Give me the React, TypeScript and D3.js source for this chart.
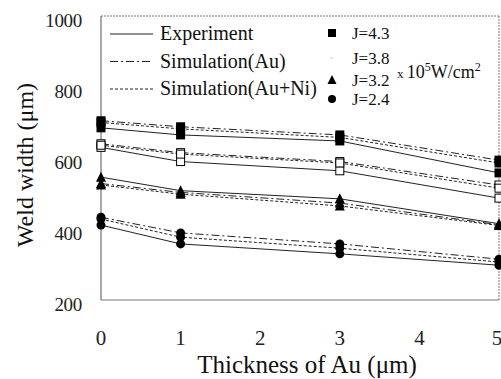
import React from "react";
import * as d3 from "d3";

// x positions (Au thickness, um)
const thickness = [0, 1, 3, 5];
const xTicks = [0, 1, 2, 3, 4, 5];
const yTicks = [200, 400, 600, 800, 1000];

// current density labels (x10^5 W/cm2)
const currents = ["4.3", "3.8", "3.2", "2.4"];
const markers = ["square", "openSquare", "triangle", "circle"];

// weld width (um)
const exp43 = [685, 665, 648, 558];
const simAu43 = [705, 688, 665, 594];
const simAuNi43 = [700, 682, 658, 586];

const exp38 = [630, 590, 564, 487];
const simAu38 = [640, 615, 590, 524];
const simAuNi38 = [636, 611, 586, 515];

const exp32 = [546, 508, 485, 415];
const simAu32 = [528, 503, 473, 412];
const simAuNi32 = [524, 498, 465, 410];

const exp24 = [411, 358, 330, 298];
const simAu24 = [433, 389, 358, 315];
const simAuNi24 = [428, 377, 346, 307];

const seriesNames = ["Experiment", "Simulation(Au)", "Simulation(Au+Ni)"];
const dashes = ["none", "8,3,2,3", "3,2"];

const groups = [
  [exp43, simAu43, simAuNi43],
  [exp38, simAu38, simAuNi38],
  [exp32, simAu32, simAuNi32],
  [exp24, simAu24, simAuNi24],
];

const FONT = '"Liberation Serif", "Times New Roman", "DejaVu Serif", serif';

function Marker({ kind, x, y, s = 9 }: { kind: string; x: number; y: number; s?: number }) {
  const h = s / 2;
  if (kind === "square")
    return <rect x={x - h} y={y - h} width={s} height={s} fill="#000" />;
  if (kind === "openSquare")
    return <rect x={x - h + 0.5} y={y - h + 0.5} width={s - 1} height={s - 1} fill="#fff" stroke="#000" strokeWidth={1} />;
  if (kind === "triangle")
    return <path d={`M${x},${y - h - 1}L${x + h + 0.5},${y + h}L${x - h - 0.5},${y + h}Z`} fill="#000" />;
  return <circle cx={x} cy={y} r={h} fill="#000" />;
}

export default function App() {
  const width = 501;
  const height = 379;
  const margin = { top: 16, left: 101, bottom: 79, right: 2 };

  const x = d3.scaleLinear().domain([0, 5]).range([margin.left, width - margin.right]);
  const y = d3.scaleLinear().domain([200, 1000]).range([height - margin.bottom, margin.top]);

  const line = d3
    .line<number>()
    .x((_, i) => x(thickness[i]))
    .y((d) => y(d));

  return (
    <svg
      width={width}
      height={height}
      style={{ position: "absolute", left: 0, top: 0, background: "#fff", fontFamily: FONT }}
    >
      {/* frame */}
      <line x1={x(0)} x2={x(5)} y1={y(1000)} y2={y(1000)} stroke="#777" strokeWidth={1} strokeDasharray="2,1" />
      <line x1={x(5)} x2={x(5)} y1={y(1000)} y2={y(200)} stroke="#777" strokeWidth={1} strokeDasharray="2,1" />
      <line x1={x(0)} x2={x(5)} y1={y(200)} y2={y(200)} stroke="#777" strokeWidth={1} />
      <line x1={x(0)} x2={x(0)} y1={y(1000)} y2={y(200)} stroke="#555" strokeWidth={1} />

      {/* y ticks */}
      {yTicks.map((t) => (
        <text key={t} x={82} y={y(t) + 4} dy="0.35em" textAnchor="end" fontSize={19} fill="#222" letterSpacing={-0.3}>
          {t}
        </text>
      ))}
      {/* x ticks */}
      {xTicks.map((t) => (
        <text key={t} x={Math.min(x(t), 497)} y={338} dy="0.35em" textAnchor="middle" fontSize={21} fill="#222">
          {t}
        </text>
      ))}

      <text x={307} y={373} textAnchor="middle" fontSize={25} fill="#111">
        Thickness of Au (μm)
      </text>
      <text transform={`translate(33,165) rotate(-90)`} textAnchor="middle" fontSize={24} fill="#111">
        Weld width (μm)
      </text>

      {/* lines */}
      {groups.map((g, gi) =>
        g.map((vals, si) => (
          <path
            key={`l${gi}-${si}`}
            d={line(vals) || ""}
            fill="none"
            stroke="#222"
            strokeWidth={1}
            strokeDasharray={dashes[si]}
          />
        ))
      )}

      {/* markers */}
      {groups.map((g, gi) =>
        g.map((vals, si) =>
          vals.map((v, i) => (
            <Marker key={`m${gi}-${si}-${i}`} kind={markers[gi]} x={x(thickness[i])} y={y(v)} />
          ))
        )
      )}

      {/* legend: line styles */}
      {seriesNames.map((n, i) => (
        <g key={n} transform={`translate(110,${34 + i * 27.5})`}>
          <line x1={0} x2={43} y1={0} y2={0} stroke="#222" strokeWidth={1} strokeDasharray={dashes[i]} />
          <text x={50} y={0} dy="0.32em" fontSize={20} fill="#111">
            {n}
          </text>
        </g>
      ))}

      {/* legend: current densities */}
      {currents.map((c, i) => {
        const yy = [33, 58, 80, 99][i];
        return (
          <g key={c}>
            {markers[i] === "openSquare" ? (
              <rect x={330} y={yy - 1} width={3} height={2} fill="#e6e6e6" />
            ) : (
              <Marker kind={markers[i]} x={332} y={yy} s={8} />
            )}
            <text x={352} y={yy} dy="0.35em" fontSize={17} fill="#111">
              J={c}
            </text>
          </g>
        );
      })}
      <text x={397} y={72} dy="0.35em" fontSize={18} fill="#111">
        <tspan fontSize={13}>x </tspan>
        10
        <tspan fontSize={12} dy="-7">5</tspan>
        <tspan dy="7">W/cm</tspan>
        <tspan fontSize={12} dy="-7">2</tspan>
      </text>
    </svg>
  );
}
